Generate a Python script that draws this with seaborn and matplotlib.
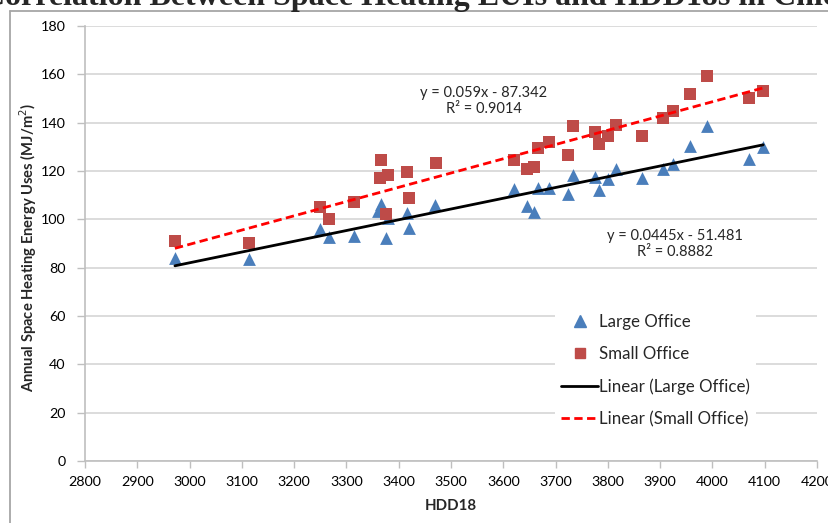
import matplotlib
matplotlib.use("Agg")
import matplotlib.pyplot as plt
import seaborn as sns
import pandas as pd
import numpy as np
from matplotlib.lines import Line2D

# Heating degree days (base 18 C) and space heating EUIs (MJ/m2)
large_hdd = [2972, 3113, 3250, 3267, 3315, 3360, 3367, 3376, 3379, 3415, 3420, 3470,
             3620, 3646, 3658, 3667, 3688, 3724, 3734, 3775, 3784, 3800, 3815, 3865,
             3906, 3925, 3957, 3989, 4070, 4097]
large_eui = [84, 83.5, 96, 92.5, 93, 103.5, 106.5, 92.3, 100.5, 102.5, 96.5, 106,
             112.5, 105.5, 103, 113, 113, 110.5, 118.5, 117.5, 112, 116.5, 121, 117,
             121, 123, 130.5, 138.5, 125, 130]
small_hdd = [2972, 3113, 3250, 3267, 3315, 3364, 3367, 3379, 3376, 3416, 3420, 3471,
             3620, 3646, 3658, 3667, 3687, 3723, 3733, 3775, 3784, 3801, 3815, 3865,
             3906, 3925, 3957, 3989, 4070, 4097]
small_eui = [91, 90, 105, 100, 107, 117, 124.5, 118.5, 102, 119.5, 109, 123.5,
             124.5, 121, 121.5, 129.5, 132, 126.5, 138.5, 136, 131, 134.5, 139, 134.5,
             142, 145, 152, 159.5, 150, 153]

# Linear trend lines: (slope, intercept, R^2)
large_fit = (0.0445, -51.481, 0.8882)
small_fit = (0.059, -87.342, 0.9014)

x_ticks = list(range(2800, 4201, 100))
y_ticks = list(range(0, 181, 20))

BLUE = "#4A7EBB"
RED = "#BE4B48"
GRID = "#D9D9D9"
AXIS = "#BFBFBF"

sns.set_style("white")
plt.rcParams["font.family"] = ["Lato", "DejaVu Sans"]

W, H = 829, 523
fig = plt.figure(figsize=(W / 100, H / 100), dpi=100)
ax = fig.add_axes([85 / W, 1 - 461 / H, (817 - 85) / W, (461 - 26) / H])

large_df = pd.DataFrame({"HDD18": large_hdd, "EUI": large_eui})
small_df = pd.DataFrame({"HDD18": small_hdd, "EUI": small_eui})

sns.scatterplot(data=large_df, x="HDD18", y="EUI", marker="^", s=85, color=BLUE,
                linewidth=0, ax=ax, zorder=3)
sns.scatterplot(data=small_df, x="HDD18", y="EUI", marker="s", s=70, color=RED,
                linewidth=0, ax=ax, zorder=3)


def trend(hdd, fit):
    xs = np.array([min(hdd), max(hdd)], dtype=float)
    return pd.DataFrame({"HDD18": xs, "EUI": fit[0] * xs + fit[1]})


sns.lineplot(data=trend(large_hdd, large_fit), x="HDD18", y="EUI", color="black",
             linewidth=2, ax=ax, zorder=4)
sns.lineplot(data=trend(small_hdd, small_fit), x="HDD18", y="EUI", color="#FF0000",
             linewidth=2, linestyle=(0, (3, 1.6)), ax=ax, zorder=4)

ax.set_xlim(2800, 4200)
ax.set_ylim(0, 180)
ax.set_xticks(x_ticks)
ax.set_yticks(y_ticks)
ax.tick_params(axis="both", labelsize=10.3, colors="#000000")
ax.tick_params(axis="x", length=5, width=1, color=AXIS, direction="out", bottom=True,
               pad=6)
ax.tick_params(axis="y", length=6, width=1, color=AXIS, direction="out", left=True,
               pad=8)
for lbl in ax.get_xticklabels() + ax.get_yticklabels():
    lbl.set_color("black")
ax.grid(axis="y", color=GRID, linewidth=1.3, zorder=0)
ax.set_axisbelow(True)
for side in ("top", "right"):
    ax.spines[side].set_visible(False)
for side in ("left", "bottom"):
    ax.spines[side].set_color(AXIS)
    ax.spines[side].set_linewidth(1.2)

ax.set_xlabel("HDD18", fontsize=10.8, fontweight="bold", labelpad=8)
ax.set_ylabel("Annual Space Heating Energy Uses (MJ/m$^2$)", fontsize=10.6,
              fontweight="bold", va="center")
ax.yaxis.set_label_coords((28 - 85) / (817 - 85), 0.49)


def eq_text(fit):
    return f"y = {fit[0]}x - {abs(fit[1])}\nR² = {fit[2]:.4f}"


ax.text(3563, 149, eq_text(small_fit), ha="center", va="center", fontsize=10.5,
        linespacing=1.25)
ax.text(3928, 89.8, eq_text(large_fit), ha="center", va="center", fontsize=10.5,
        linespacing=1.25)

handles = [
    Line2D([], [], marker="^", color=BLUE, linestyle="none", markersize=8),
    Line2D([], [], marker="s", color=RED, linestyle="none", markersize=7),
    Line2D([], [], color="black", linewidth=2),
    Line2D([], [], color="#FF0000", linewidth=2, linestyle=(0, (3, 1.6))),
]
labels = ["Large Office", "Small Office", "Linear (Large Office)", "Linear (Small Office)"]
leg = ax.legend(handles, labels, loc="upper left",
                bbox_to_anchor=((555 - 85) / (817 - 85), 1 - (308 - 26) / (461 - 26)),
                frameon=True, facecolor="white", edgecolor="none", framealpha=1,
                fontsize=12.2, handlelength=2.2, handletextpad=0.05, labelspacing=0.96,
                borderpad=0.35, borderaxespad=0)

# Chart title (runs past the figure edge) and outer chart frame
fig.text(-18 / W, 1 - 5 / H, "Correlation Between Space Heating EUIs and HDD18s in Chicago",
         family=["Liberation Serif"], fontweight="bold", fontsize=23.0, va="baseline",
         ha="left")
fig.add_artist(Line2D([10 / W, 1.0], [1 - 11 / H, 1 - 11 / H], color="#A6A6A6",
                      linewidth=1.3, transform=fig.transFigure))
fig.add_artist(Line2D([10 / W, 10 / W], [0, 1 - 11 / H], color="#A6A6A6",
                      linewidth=1.3, transform=fig.transFigure))

fig.savefig("out.png", dpi=100, facecolor="white")
